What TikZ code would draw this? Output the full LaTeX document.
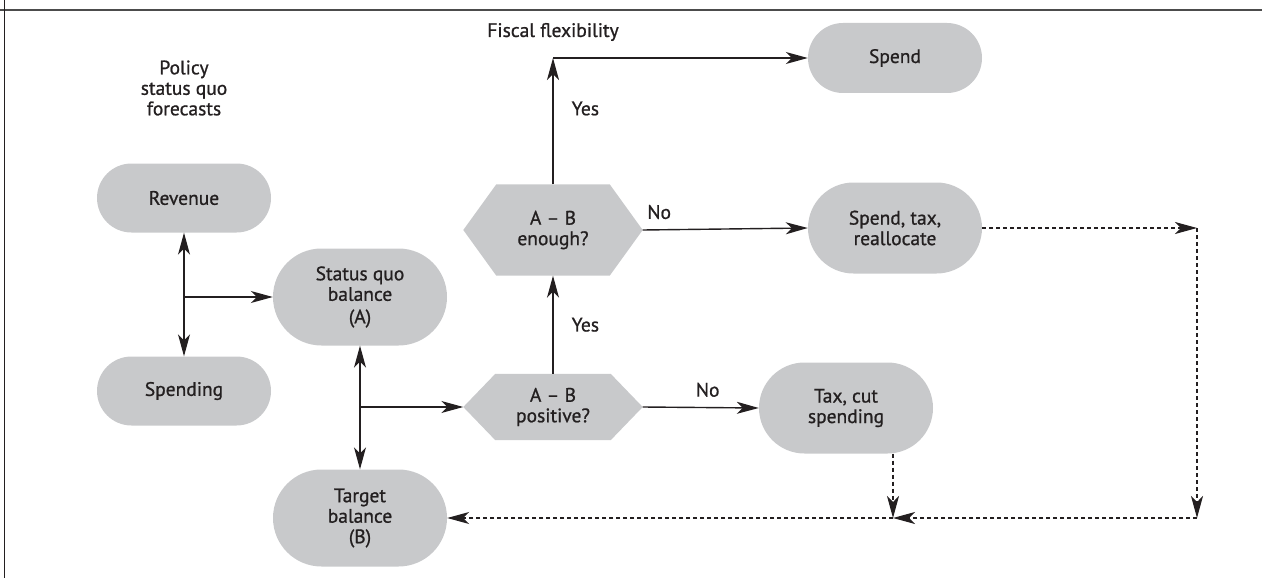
\documentclass[tikz,border=0pt]{standalone}
\usepackage{fontspec}
\setmainfont{PT Sans}
\newfontfamily\medfont[FakeBold=0.9,Ligatures=TeX]{PT Sans}
\usetikzlibrary{arrows.meta,backgrounds,calc}
\definecolor{boxgray}{HTML}{C8C9CB}
\definecolor{ink}{HTML}{231F20}
\newcommand{\nodefnt}{\medfont\fontsize{19.5}{20.5}\selectfont}
\newcommand{\hexbg}[2]{%
  \begin{pgfonlayer}{background}
  \fill[boxgray] ([xshift=#2]#1.north west) -- ([xshift=-#2]#1.north east) -- (#1.east)
     -- ([xshift=-#2]#1.south east) -- ([xshift=#2]#1.south west) -- (#1.west) -- cycle;
  \end{pgfonlayer}}
\tikzset{
  pill/.style={fill=boxgray, inner sep=0pt, minimum width=174pt, align=center, text=ink, font=\nodefnt},
  lowpill/.style={pill, minimum height=69pt, rounded corners=34.5pt},
  midpill/.style={pill, minimum height=91pt, rounded corners=45.5pt},
  highpill/.style={pill, minimum height=97pt, rounded corners=48.5pt},
  hexnode/.style={inner sep=0pt, minimum width=179pt, align=center, text=ink, font=\nodefnt},
  lbl/.style={text=ink, font=\nodefnt, inner sep=0pt, align=center},
  >={Stealth[length=22pt,width=12pt,inset=6pt]},
  conn/.style={draw=ink, line width=1.4pt, ->},
  dconn/.style={conn, line width=1.2pt, dash pattern=on 4pt off 3pt},
}
\begin{document}
\begin{tikzpicture}[x=1pt,y=-1pt]
\useasboundingbox (0,0) rectangle (1262,578);
\draw[line width=1.6pt, black!70] (0,10) -- (1262,10);
\draw[line width=1.5pt, ink] (4.5,0) -- (4.5,578);

\node[lbl] (policy) at (184,88) {Policy\\status quo\\forecasts};
\node[lbl] (fiscal) at (553,32) {Fiscal flexibility};

\node[lowpill] (rev) at (184,198) {Revenue};
\node[lowpill] (spd) at (184,391) {Spending};
\node[highpill] (sq) at (360,297) {Status quo\\balance\\[2pt](A)};
\node[highpill] (tb) at (360,518) {Target\\balance\\(B)};
\node[hexnode, minimum height=66pt] (pos) at (553,407) {A – B\\positive?};
\hexbg{pos}{32pt}
\node[hexnode, minimum height=91pt] (enough) at (553,230) {A – B\\enough?};
\hexbg{enough}{33pt}
\node[midpill] (tc) at (846,408) {Tax, cut\\spending};
\node[lowpill, minimum height=70pt, rounded corners=35pt] (spend) at (895,58) {Spend};
\node[midpill] (sr) at (895,228) {Spend, tax,\\reallocate};

% solid connectors
\draw[conn, <->] (rev.south) -- (spd.north);
\coordinate (j1) at (rev.south |- sq.west);
\draw[conn] (j1) -- (sq.west);
\draw[conn, <->] (sq.south) -- (tb.north);
\coordinate (j2) at (sq.south |- pos.west);
\draw[conn] (j2) -- (pos.west);
\draw[conn] (pos.east) -- (tc.west) node[lbl, pos=0.56, above=10pt] {No};
\draw[conn] (pos.north) -- (enough.south) node[lbl, midway, right=18pt] {Yes};
\draw[conn] (enough.east) -- (sr.west) node[lbl, pos=0.1, above=10pt] {No};
\coordinate (ff) at (enough.north |- spend.west);
\draw[conn] (enough.north) -- (ff) node[lbl, pos=0.6, right=18pt] {Yes};
\draw[conn] (ff) -- (spend.west);

% dashed connectors
\coordinate (r1) at (1197,228);
\coordinate (r2) at (1197,518);
\coordinate (m) at (893,518);
\coordinate (tcb) at (tc.south -| m);
\draw[dconn] (sr.east) -- (r1);
\draw[dconn] (r1) -- (r2);
\draw[dconn] (r2) -- (m);
\draw[dconn] (tcb) -- (m);
\draw[dconn] (m) -- (tb.east);
\end{tikzpicture}
\end{document}
